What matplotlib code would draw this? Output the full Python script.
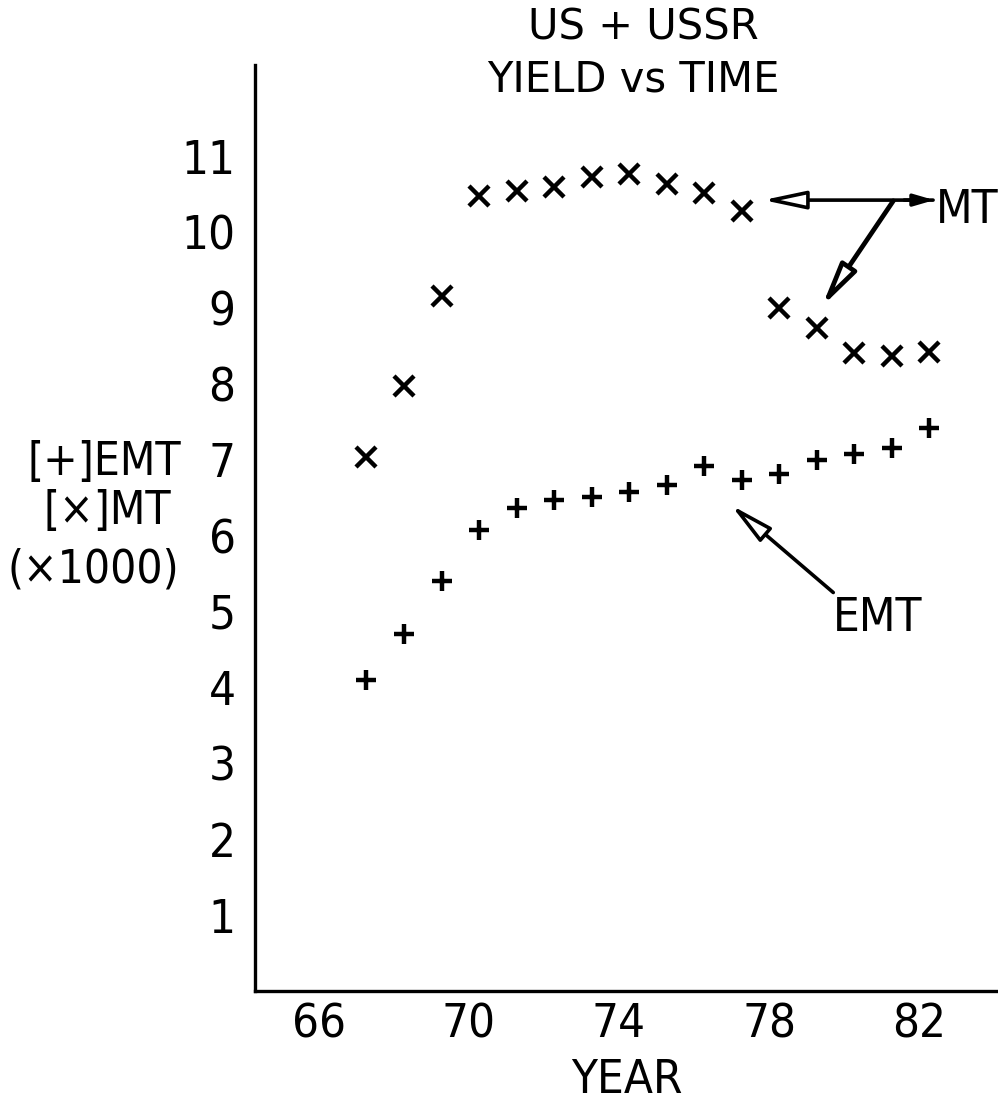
import numpy as np
import matplotlib
matplotlib.use("Agg")
import matplotlib.pyplot as plt
from matplotlib.patches import FancyArrowPatch

# data (yield x1000), one point per year, plotted mid-year
years = [67, 68, 69, 70, 71, 72, 73, 74, 75, 76, 77, 78, 79, 80, 81, 82]
mt = [7.04, 7.97, 9.16, 10.47, 10.54, 10.59, 10.72, 10.76,
      10.63, 10.52, 10.27, 9.00, 8.73, 8.40, 8.36, 8.42]
emt = [4.10, 4.71, 5.40, 6.07, 6.36, 6.47, 6.51, 6.58,
       6.66, 6.92, 6.73, 6.81, 6.99, 7.08, 7.16, 7.42]
x_ticks = [66, 70, 74, 78, 82]
y_ticks = [1, 2, 3, 4, 5, 6, 7, 8, 9, 10, 11]

plt.rcParams['font.family'] = ['DejaVu Sans']
plt.rcParams['font.stretch'] = 'condensed'

fig = plt.figure(figsize=(9.98, 11.07), dpi=100)
ax = fig.add_axes([255 / 998, 1 - 991 / 1107, 1 - 255 / 998, (991 - 65) / 1107])

x = np.array(years) + 0.27
ax.plot(x, mt, linestyle='none', marker='x', ms=14, mew=3.2, color='black')
ax.plot(x, emt, linestyle='none', marker='+', ms=15, mew=3.2, color='black')

ax.set_xlim(64.3, 84.1)
ax.set_ylim(0, 12.2)
ax.set_xticks(x_ticks)
ax.set_yticks(y_ticks)
ax.tick_params(length=0, labelsize=34)
ax.tick_params(axis='y', pad=14)
ax.tick_params(axis='x', pad=8)
for s in ['top', 'right']:
    ax.spines[s].set_visible(False)
for s in ['left', 'bottom']:
    ax.spines[s].set_linewidth(2.4)

ax.set_xlabel('YEAR', fontsize=34, labelpad=8)

fig.text(0.645, 1 - 28 / 1107, 'US + USSR', fontsize=30, ha='center', va='center',
         fontstretch='normal')
fig.text(0.635, 1 - 79 / 1107, 'YIELD vs TIME', fontsize=30, ha='center', va='center',
         fontstretch='normal')

fig.text(104 / 998, 1 - 462 / 1107, '[+]EMT', fontsize=33, ha='center', va='center')
fig.text(107 / 998, 1 - 512 / 1107, '[×]MT', fontsize=33, ha='center', va='center')
fig.text(93 / 998, 1 - 570 / 1107, '(×1000)', fontsize=33, ha='center', va='center')

# annotations
ax.text(82.45, 10.28, 'MT', fontsize=34, ha='left', va='center')
ax.text(80.88, 4.91, 'EMT', fontsize=34, ha='center', va='center')

def open_arrow(tail, tip, lw=2.6):
    a = FancyArrowPatch(tail, tip, arrowstyle='-|>,head_length=2.6,head_width=0.55',
                        mutation_scale=10, lw=lw, ec='black', fc='white',
                        shrinkA=0, shrinkB=0, clip_on=False, zorder=3)
    ax.add_patch(a)

open_arrow((82.37, 10.42), (77.84, 10.42))
open_arrow((81.31, 10.41), (79.41, 9.02), lw=3.4)
open_arrow((79.71, 5.25), (76.99, 6.40))
ax.add_patch(FancyArrowPatch((81.6, 10.42), (82.4, 10.42),
                             arrowstyle='-|>,head_length=1.2,head_width=0.35',
                             mutation_scale=10, lw=2.6, color='black',
                             shrinkA=0, shrinkB=0, clip_on=False))

fig.savefig('out.png', dpi=100)
